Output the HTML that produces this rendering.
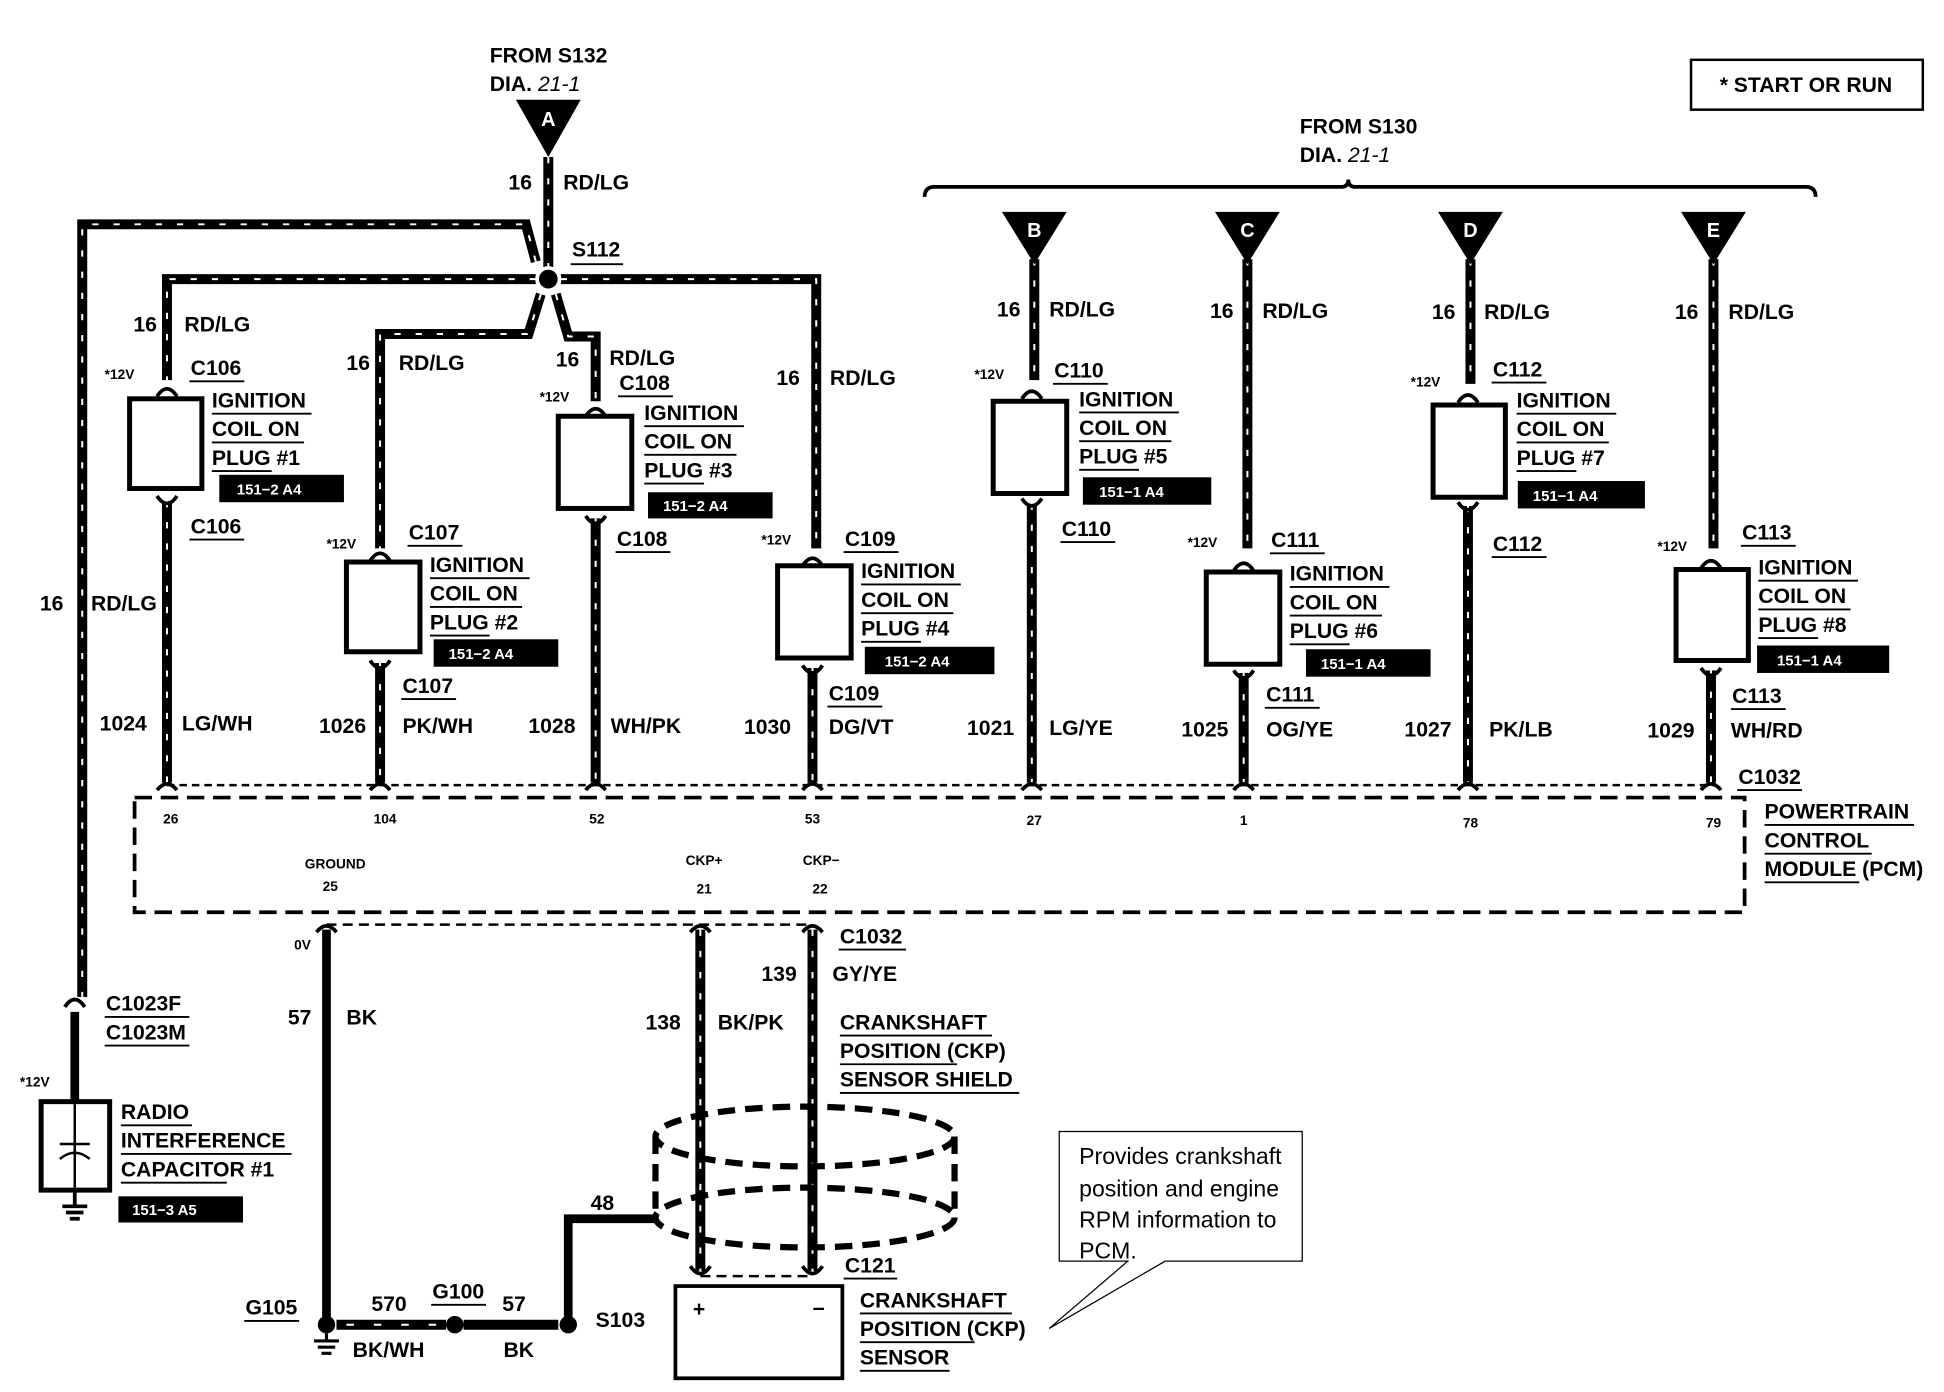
<!DOCTYPE html>
<html><head><meta charset="utf-8"><style>
html,body{margin:0;padding:0;background:#fff}
svg{display:block}
text{font-family:"Liberation Sans Narrow","Liberation Sans",sans-serif;font-weight:bold;fill:#000}
.t{font-size:17px}
.s{font-size:11px}
.i{font-size:12px;fill:#fff}
.w{stroke:#000;stroke-width:8;fill:none}
.st{stroke:#fff;stroke-width:1.6;fill:none;stroke-dasharray:5 12}
.sw{stroke:#000;stroke-width:7;fill:none}
.u{stroke:#000;stroke-width:1.5}
.bx{fill:#fff;stroke:#000;stroke-width:4}
.f{stroke:#000;stroke-width:3;fill:none}
.d{stroke:#000;stroke-width:3;fill:none;stroke-dasharray:12 6}
</style></head><body>
<svg width="1944" height="1392" viewBox="0 0 1560 1117" preserveAspectRatio="none" xmlns="http://www.w3.org/2000/svg">
<text class="t" x="393" y="50">FROM S132</text>
<text class="t" x="393" y="73">DIA. <tspan font-style="italic" font-weight="normal">21-1</tspan></text>
<polygon points="414,80 466,80 440,126"/>
<text class="i" x="440" y="101" text-anchor="middle" style="font-size:16px">A</text>
<rect x="1357" y="48" width="186" height="40" fill="none" stroke="#000" stroke-width="2"/>
<text class="t" x="1380" y="74">*  START OR RUN</text>
<text class="t" x="1043" y="107">FROM S130</text>
<text class="t" x="1043" y="130">DIA. <tspan font-style="italic" font-weight="normal">21-1</tspan></text>
<path d="M742,158 Q742,150 750,150 L1076,150 Q1082,150 1082,144 Q1082,150 1088,150 L1449,150 Q1457,150 1457,158" fill="none" stroke="#000" stroke-width="3"/>

<g>
<path class="w" d="M440,126 V224"/><path class="st" d="M440,126 V224"/>
<path class="w" d="M430,210 L422,180 H66 V800"/><path class="st" d="M430,210 L422,180 H66 V800"/>
<path class="w" d="M430,224 H134 V305"/><path class="st" d="M430,224 H134 V305"/>
<path class="w" d="M450,224 H655 V440"/><path class="st" d="M450,224 H655 V440"/>
<path class="w" d="M434,236 L424,268 H305 V440"/><path class="st" d="M434,236 L424,268 H305 V440"/>
<path class="w" d="M446,236 L456,270 H478 V322"/><path class="st" d="M446,236 L456,270 H478 V322"/>
</g>
<circle cx="440" cy="224" r="9" fill="#000" stroke="#fff" stroke-width="3"/>
<text class="t" x="459" y="206">S112</text><line class="u" x1="458" y1="212" x2="500" y2="212"/>
<text class="t" x="408" y="152">16</text><text class="t" x="452" y="152">RD/LG</text>
<text class="t" x="32" y="490">16</text><text class="t" x="73" y="490">RD/LG</text>

<g>
<path class="w" d="M134,402 V628"/><path class="st" d="M134,402 V628"/>
<path class="w" d="M305,532 V628"/><path class="st" d="M305,532 V628"/>
<path class="w" d="M478,416 V628"/><path class="st" d="M478,416 V628"/>
<path class="w" d="M652,536 V628"/><path class="st" d="M652,536 V628"/>
<path class="w" d="M828,404 V628"/><path class="st" d="M828,404 V628"/>
<path class="w" d="M998,540 V628"/><path class="st" d="M998,540 V628"/>
<path class="w" d="M1178,406 V628"/><path class="st" d="M1178,406 V628"/>
<path class="w" d="M1373,538 V628"/><path class="st" d="M1373,538 V628"/>
<path class="w" d="M830,208 V305"/><path class="st" d="M830,208 V305"/>
<path class="w" d="M1001,208 V440"/><path class="st" d="M1001,208 V440"/>
<path class="w" d="M1180,208 V308"/><path class="st" d="M1180,208 V308"/>
<path class="w" d="M1375,208 V440"/><path class="st" d="M1375,208 V440"/>
</g>
<polygon points="804,170 856,170 830,212"/><text class="i" x="830" y="190" text-anchor="middle" style="font-size:16px">B</text>
<polygon points="975,170 1027,170 1001,212"/><text class="i" x="1001" y="190" text-anchor="middle" style="font-size:16px">C</text>
<polygon points="1154,170 1206,170 1180,212"/><text class="i" x="1180" y="190" text-anchor="middle" style="font-size:16px">D</text>
<polygon points="1349,170 1401,170 1375,212"/><text class="i" x="1375" y="190" text-anchor="middle" style="font-size:16px">E</text>
<g>
<text class="t" x="800" y="254">16</text><text class="t" x="842" y="254">RD/LG</text>
<text class="t" x="971" y="255">16</text><text class="t" x="1013" y="255">RD/LG</text>
<text class="t" x="1149" y="256">16</text><text class="t" x="1191" y="256">RD/LG</text>
<text class="t" x="1344" y="256">16</text><text class="t" x="1387" y="256">RD/LG</text>
<text class="t" x="107" y="266">16</text><text class="t" x="148" y="266">RD/LG</text>
<text class="t" x="278" y="297">16</text><text class="t" x="320" y="297">RD/LG</text>
<text class="t" x="446" y="294">16</text><text class="t" x="489" y="293">RD/LG</text>
<text class="t" x="623" y="309">16</text><text class="t" x="666" y="309">RD/LG</text>
</g>

<g class="f">
<path d="M126,318 Q134,306 142,318"/><path d="M126,398 Q134,410 142,398"/>
<path d="M297,450 Q305,438 313,450"/><path d="M297,530 Q305,542 313,530"/>
<path d="M470,334 Q478,322 486,334"/><path d="M470,414 Q478,426 486,414"/>
<path d="M644,454 Q652,442 660,454"/><path d="M644,534 Q652,546 660,534"/>
<path d="M820,320 Q828,308 836,320"/><path d="M820,400 Q828,412 836,400"/>
<path d="M990,458 Q998,446 1006,458"/><path d="M990,538 Q998,550 1006,538"/>
<path d="M1170,323 Q1178,311 1186,323"/><path d="M1170,403 Q1178,415 1186,403"/>
<path d="M1365,456 Q1373,444 1381,456"/><path d="M1365,536 Q1373,548 1381,536"/>
</g>
<rect class="bx" x="104" y="320" width="58" height="72"/>
<rect class="bx" x="278" y="451" width="59" height="72"/>
<rect class="bx" x="448" y="334" width="59" height="74"/>
<rect class="bx" x="624" y="454" width="59" height="74"/>
<rect class="bx" x="797" y="322" width="59" height="74"/>
<rect class="bx" x="968" y="459" width="59" height="74"/>
<rect class="bx" x="1150" y="325" width="58" height="74"/>
<rect class="bx" x="1345" y="457" width="58" height="73"/>

<g>
<text class="s" x="84" y="304">*12V</text><text class="t" x="153" y="301">C106</text><line class="u" x1="152" y1="306" x2="196" y2="306"/>
<text class="t" x="170" y="327">IGNITION</text><line class="u" x1="170" y1="332" x2="250" y2="332"/>
<text class="t" x="170" y="350">COIL ON</text><line class="u" x1="170" y1="355" x2="244" y2="355"/>
<text class="t" x="170" y="373">PLUG #1</text><line class="u" x1="170" y1="378" x2="218" y2="378"/>
<rect x="176" y="381" width="100" height="22"/><text class="i" x="190" y="397">151−2 A4</text>
<text class="t" x="153" y="428">C106</text><line class="u" x1="152" y1="433" x2="196" y2="433"/>

<text class="s" x="262" y="440">*12V</text><text class="t" x="328" y="433">C107</text><line class="u" x1="327" y1="438" x2="371" y2="438"/>
<text class="t" x="345" y="459">IGNITION</text><line class="u" x1="345" y1="464" x2="425" y2="464"/>
<text class="t" x="345" y="482">COIL ON</text><line class="u" x1="345" y1="487" x2="419" y2="487"/>
<text class="t" x="345" y="505">PLUG #2</text><line class="u" x1="345" y1="510" x2="393" y2="510"/>
<rect x="348" y="513" width="100" height="22"/><text class="i" x="360" y="529">151−2 A4</text>
<text class="t" x="323" y="556">C107</text><line class="u" x1="322" y1="561" x2="366" y2="561"/>

<text class="s" x="433" y="322">*12V</text><text class="t" x="497" y="313">C108</text><line class="u" x1="496" y1="318" x2="540" y2="318"/>
<text class="t" x="517" y="337">IGNITION</text><line class="u" x1="517" y1="342" x2="597" y2="342"/>
<text class="t" x="517" y="360">COIL ON</text><line class="u" x1="517" y1="365" x2="591" y2="365"/>
<text class="t" x="517" y="383">PLUG #3</text><line class="u" x1="517" y1="388" x2="565" y2="388"/>
<rect x="520" y="395" width="100" height="21"/><text class="i" x="532" y="410">151−2 A4</text>
<text class="t" x="495" y="438">C108</text><line class="u" x1="494" y1="443" x2="538" y2="443"/>

<text class="s" x="611" y="437">*12V</text><text class="t" x="678" y="438">C109</text><line class="u" x1="677" y1="443" x2="721" y2="443"/>
<text class="t" x="691" y="464">IGNITION</text><line class="u" x1="691" y1="469" x2="771" y2="469"/>
<text class="t" x="691" y="487">COIL ON</text><line class="u" x1="691" y1="492" x2="765" y2="492"/>
<text class="t" x="691" y="510">PLUG #4</text><line class="u" x1="691" y1="515" x2="739" y2="515"/>
<rect x="694" y="519" width="104" height="22"/><text class="i" x="710" y="535">151−2 A4</text>
<text class="t" x="665" y="562">C109</text><line class="u" x1="664" y1="567" x2="708" y2="567"/>

<text class="s" x="782" y="304">*12V</text><text class="t" x="846" y="303">C110</text><line class="u" x1="845" y1="308" x2="889" y2="308"/>
<text class="t" x="866" y="326">IGNITION</text><line class="u" x1="866" y1="331" x2="946" y2="331"/>
<text class="t" x="866" y="349">COIL ON</text><line class="u" x1="866" y1="354" x2="940" y2="354"/>
<text class="t" x="866" y="372">PLUG #5</text><line class="u" x1="866" y1="377" x2="914" y2="377"/>
<rect x="869" y="383" width="103" height="22"/><text class="i" x="882" y="399">151−1 A4</text>
<text class="t" x="852" y="430">C110</text><line class="u" x1="851" y1="435" x2="895" y2="435"/>

<text class="s" x="953" y="439">*12V</text><text class="t" x="1020" y="439">C111</text><line class="u" x1="1019" y1="444" x2="1063" y2="444"/>
<text class="t" x="1035" y="466">IGNITION</text><line class="u" x1="1035" y1="471" x2="1115" y2="471"/>
<text class="t" x="1035" y="489">COIL ON</text><line class="u" x1="1035" y1="494" x2="1109" y2="494"/>
<text class="t" x="1035" y="512">PLUG #6</text><line class="u" x1="1035" y1="517" x2="1083" y2="517"/>
<rect x="1048" y="521" width="100" height="22"/><text class="i" x="1060" y="537">151−1 A4</text>
<text class="t" x="1016" y="563">C111</text><line class="u" x1="1015" y1="568" x2="1059" y2="568"/>

<text class="s" x="1132" y="310">*12V</text><text class="t" x="1198" y="302">C112</text><line class="u" x1="1197" y1="307" x2="1241" y2="307"/>
<text class="t" x="1217" y="327">IGNITION</text><line class="u" x1="1217" y1="332" x2="1297" y2="332"/>
<text class="t" x="1217" y="350">COIL ON</text><line class="u" x1="1217" y1="355" x2="1291" y2="355"/>
<text class="t" x="1217" y="373">PLUG #7</text><line class="u" x1="1217" y1="378" x2="1265" y2="378"/>
<rect x="1218" y="386" width="102" height="22"/><text class="i" x="1230" y="402">151−1 A4</text>
<text class="t" x="1198" y="442">C112</text><line class="u" x1="1197" y1="447" x2="1241" y2="447"/>

<text class="s" x="1330" y="442">*12V</text><text class="t" x="1398" y="433">C113</text><line class="u" x1="1397" y1="438" x2="1441" y2="438"/>
<text class="t" x="1411" y="461">IGNITION</text><line class="u" x1="1411" y1="466" x2="1491" y2="466"/>
<text class="t" x="1411" y="484">COIL ON</text><line class="u" x1="1411" y1="489" x2="1485" y2="489"/>
<text class="t" x="1411" y="507">PLUG #8</text><line class="u" x1="1411" y1="512" x2="1459" y2="512"/>
<rect x="1410" y="518" width="106" height="22"/><text class="i" x="1426" y="534">151−1 A4</text>
<text class="t" x="1390" y="564">C113</text><line class="u" x1="1389" y1="569" x2="1433" y2="569"/>
</g>

<g>
<text class="t" x="80" y="586">1024</text><text class="t" x="146" y="586">LG/WH</text>
<text class="t" x="256" y="588">1026</text><text class="t" x="323" y="588">PK/WH</text>
<text class="t" x="424" y="588">1028</text><text class="t" x="490" y="588">WH/PK</text>
<text class="t" x="597" y="589">1030</text><text class="t" x="665" y="589">DG/VT</text>
<text class="t" x="776" y="590">1021</text><text class="t" x="842" y="590">LG/YE</text>
<text class="t" x="948" y="591">1025</text><text class="t" x="1016" y="591">OG/YE</text>
<text class="t" x="1127" y="591">1027</text><text class="t" x="1195" y="591">PK/LB</text>
<text class="t" x="1322" y="592">1029</text><text class="t" x="1389" y="592">WH/RD</text>
</g>

<path d="M134,630 H1375" stroke="#000" stroke-width="2" stroke-dasharray="6 4" fill="none"/>
<g class="f">
<path d="M126,634 Q134,624 142,634"/><path d="M297,634 Q305,624 313,634"/><path d="M470,634 Q478,624 486,634"/>
<path d="M644,634 Q652,624 660,634"/><path d="M820,634 Q828,624 836,634"/><path d="M990,634 Q998,624 1006,634"/>
<path d="M1170,634 Q1178,624 1186,634"/><path d="M1365,634 Q1373,624 1381,634"/>
</g>
<path d="M108,640 H1400 V732 H108 Z" stroke="#000" stroke-width="3" stroke-dasharray="14 7" fill="none"/>
<text class="t" x="1395" y="629">C1032</text><line class="u" x1="1394" y1="634" x2="1446" y2="634"/>
<text class="t" x="1416" y="657">POWERTRAIN</text><line class="u" x1="1416" y1="662" x2="1536" y2="662"/>
<text class="t" x="1416" y="680">CONTROL</text><line class="u" x1="1416" y1="685" x2="1502" y2="685"/>
<text class="t" x="1416" y="703">MODULE (PCM)</text><line class="u" x1="1416" y1="708" x2="1492" y2="708"/>
<g>
<text class="s" x="137" y="661" text-anchor="middle">26</text><text class="s" x="309" y="661" text-anchor="middle">104</text>
<text class="s" x="479" y="661" text-anchor="middle">52</text><text class="s" x="652" y="661" text-anchor="middle">53</text>
<text class="s" x="830" y="662" text-anchor="middle">27</text><text class="s" x="998" y="662" text-anchor="middle">1</text>
<text class="s" x="1180" y="664" text-anchor="middle">78</text><text class="s" x="1375" y="664" text-anchor="middle">79</text>
<text class="s" x="269" y="697" text-anchor="middle">GROUND</text><text class="s" x="265" y="715" text-anchor="middle">25</text>
<text class="s" x="565" y="694" text-anchor="middle">CKP+</text><text class="s" x="565" y="717" text-anchor="middle">21</text>
<text class="s" x="659" y="694" text-anchor="middle">CKP−</text><text class="s" x="658" y="717" text-anchor="middle">22</text>
</g>

<path d="M262,742 H652" stroke="#000" stroke-width="2" stroke-dasharray="8 5" fill="none"/>
<g class="f">
<path d="M254,748 Q262,738 270,748"/><path d="M554,748 Q562,738 570,748"/><path d="M644,748 Q652,738 660,748"/>
<path d="M554,1016 Q562,1028 570,1016"/><path d="M644,1016 Q652,1028 660,1016"/>
</g>
<path class="sw" d="M262,746 V1058"/>
<path class="w" d="M562,746 V1020"/><path class="st" d="M562,746 V1020"/>
<path class="w" d="M652,746 V1020"/><path class="st" d="M652,746 V1020"/>
<path d="M562,1024 H652" stroke="#000" stroke-width="2" stroke-dasharray="8 5" fill="none"/>
<text class="s" x="236" y="762">0V</text>
<text class="t" x="231" y="822">57</text><text class="t" x="278" y="822">BK</text>
<text class="t" x="674" y="757">C1032</text><line class="u" x1="673" y1="762" x2="727" y2="762"/>
<text class="t" x="611" y="787">139</text><text class="t" x="668" y="787">GY/YE</text>
<text class="t" x="518" y="826">138</text><text class="t" x="576" y="826">BK/PK</text>
<text class="t" x="674" y="826">CRANKSHAFT</text><line class="u" x1="674" y1="831" x2="796" y2="831"/>
<text class="t" x="674" y="849">POSITION (CKP)</text><line class="u" x1="674" y1="854" x2="768" y2="854"/>
<text class="t" x="674" y="872">SENSOR SHIELD</text><line class="u" x1="674" y1="877" x2="818" y2="877"/>
<g stroke="#000" stroke-width="5" fill="none" stroke-dasharray="14 8">
<ellipse cx="646" cy="912" rx="120" ry="24"/>
<ellipse cx="646" cy="977" rx="120" ry="24"/>
<path d="M526,912 V977 M766,912 V977"/>
</g>
<path class="sw" d="M526,978 H456 V1060"/>
<text class="t" x="474" y="971">48</text>
<circle cx="456" cy="1063" r="7"/>
<text class="t" x="478" y="1065">S103</text>
<rect x="542" y="1032" width="134" height="74" fill="#fff" stroke="#000" stroke-width="3"/>
<text class="t" x="556" y="1056" font-weight="normal">+</text><text class="t" x="652" y="1056">−</text>
<text class="t" x="678" y="1021">C121</text><line class="u" x1="677" y1="1026" x2="720" y2="1026"/>
<text class="t" x="690" y="1049">CRANKSHAFT</text><line class="u" x1="690" y1="1054" x2="812" y2="1054"/>
<text class="t" x="690" y="1072">POSITION (CKP)</text><line class="u" x1="690" y1="1077" x2="782" y2="1077"/>
<text class="t" x="690" y="1095">SENSOR</text><line class="u" x1="690" y1="1100" x2="762" y2="1100"/>
<circle cx="262" cy="1063" r="7"/>
<path d="M262,1070 V1076 M252,1076 H272 M255,1081 H269 M258,1086 H266" stroke="#000" stroke-width="2.5"/>
<path class="w" d="M270,1063 H358"/><path d="M278,1063 H355" stroke="#fff" stroke-width="1.6" stroke-dasharray="6 16"/>
<circle cx="365" cy="1063" r="7"/>
<path class="w" d="M372,1063 H448"/>
<text class="t" x="197" y="1055">G105</text><line class="u" x1="196" y1="1060" x2="240" y2="1060"/>
<text class="t" x="298" y="1052">570</text><text class="t" x="283" y="1089">BK/WH</text>
<text class="t" x="347" y="1042">G100</text><line class="u" x1="346" y1="1047" x2="390" y2="1047"/>
<text class="t" x="403" y="1052">57</text><text class="t" x="404" y="1089">BK</text>
<path class="f" d="M52,808 Q60,796 68,808"/>
<path class="sw" d="M60,812 V884"/>
<text class="t" x="85" y="811">C1023F</text><line class="u" x1="84" y1="816" x2="152" y2="816"/>
<text class="t" x="85" y="834">C1023M</text><line class="u" x1="84" y1="839" x2="152" y2="839"/>
<text class="s" x="16" y="872">*12V</text>
<rect x="33" y="884" width="55" height="71" fill="#fff" stroke="#000" stroke-width="4"/>
<path d="M60,886 V953 M48,918 H72 M48,930 Q60,920 72,930" stroke="#000" stroke-width="2" fill="none"/>
<path d="M60,955 V968 M50,968 H70 M53,973 H67 M56,978 H64" stroke="#000" stroke-width="3"/>
<text class="t" x="97" y="898">RADIO</text><line class="u" x1="97" y1="903" x2="154" y2="903"/>
<text class="t" x="97" y="921">INTERFERENCE</text><line class="u" x1="97" y1="926" x2="234" y2="926"/>
<text class="t" x="97" y="944">CAPACITOR #1</text><line class="u" x1="97" y1="949" x2="182" y2="949"/>
<rect x="95" y="960" width="100" height="21"/><text class="i" x="106" y="975">151−3 A5</text>
<path d="M850,908 H1045 V1012 H935 L842,1066 L905,1012 H850 Z" fill="#fff" stroke="#000" stroke-width="1"/>
<text x="866" y="934" style="font-weight:normal;font-size:18.5px">Provides crankshaft</text>
<text x="866" y="960" style="font-weight:normal;font-size:18.5px">position and engine</text>
<text x="866" y="985" style="font-weight:normal;font-size:18.5px">RPM information to</text>
<text x="866" y="1010" style="font-weight:normal;font-size:18.5px">PCM.</text>
</svg>
</body></html>
